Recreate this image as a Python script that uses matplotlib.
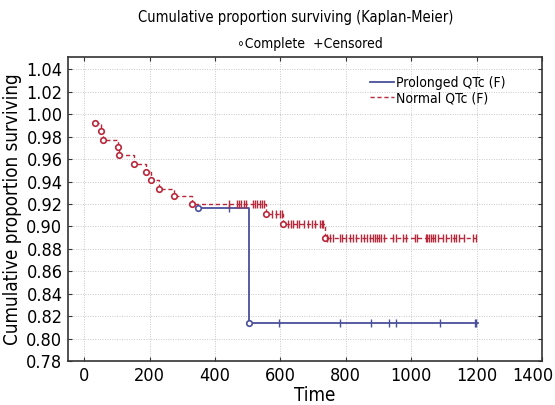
import numpy as np
import matplotlib
matplotlib.use("Agg")
import matplotlib.pyplot as plt
import matplotlib.transforms as mtransforms

plt.rcParams['font.family'] = ['DejaVu Sans']
plt.rcParams['font.stretch'] = 'condensed'

# Normal QTc group: event times and survival after each event
normal_times = [33, 51, 56, 102, 107, 153, 189, 204, 227, 273, 329, 556, 609, 735]
normal_surv = [0.9923, 0.9849, 0.9775, 0.9709, 0.9635, 0.9561, 0.9486, 0.9412,
               0.9337, 0.9271, 0.9200, 0.9108, 0.9025, 0.8900]
normal_censored = [444, 467, 473, 480, 488, 495, 515, 523, 529, 537, 543, 551,
                   573, 587, 597, 604,
                   622, 631, 639, 649, 658, 671, 684, 695, 706, 720, 727, 729,
                   742, 752, 762, 781, 789, 801, 813, 822, 830, 847, 854, 864,
                   875, 883, 888, 895, 901, 908, 916, 944, 952, 975, 983, 1010,
                   1018, 1044, 1049, 1054, 1059, 1067, 1074, 1082, 1097, 1107,
                   1121, 1130, 1138, 1146, 1160, 1189, 1197]
normal_end = 1197

# Prolonged QTc group
prolonged_times = [349, 505]
prolonged_surv = [0.9168, 0.8135]
prolonged_censored = [444, 594, 783, 876, 932, 954, 1087, 1194, 1199]
prolonged_end = 1203

blue = '#4a4f9c'
red = '#b8283a'


def km_curve(ax, times, surv, censored, end, color, ls, lw, label):
    xs = list(times) + [end]
    ys = list(surv) + [surv[-1]]
    ax.step(xs, ys, where='post', color=color, linestyle=ls, linewidth=lw,
            label=label, zorder=3)
    ax.plot(times, surv, linestyle='none', marker='o', markersize=4,
            markerfacecolor='white', markeredgecolor=color, markeredgewidth=1.2,
            zorder=4)
    idx = np.searchsorted(times, censored, side='right') - 1
    cy = [surv[i] for i in idx]
    ax.plot(censored, cy, linestyle='none', marker='|', markersize=6,
            color=color, markeredgewidth=1.0, zorder=4)


fig = plt.figure(figsize=(5.55, 4.05), dpi=100)
ax = fig.add_axes([0.1225, 0.1086, 0.8541, 0.7504])

km_curve(ax, prolonged_times, prolonged_surv, prolonged_censored,
         prolonged_end, blue, '-', 1.3, 'Prolonged QTc (F)')
km_curve(ax, normal_times, normal_surv, normal_censored, normal_end,
         red, (0, (3, 2)), 1.0, 'Normal QTc (F)')

ax.set_xlim(-50, 1400)
ax.set_ylim(0.78, 1.051)
ax.set_xticks(np.arange(0, 1401, 200))
ax.set_yticks(np.arange(0.78, 1.041, 0.02))
ax.yaxis.set_major_formatter(matplotlib.ticker.FormatStrFormatter('%.2f'))
ax.tick_params(direction='in', top=True, right=True, labelsize=13,
               length=3, color='#333333', pad=4)
ax.grid(True, linestyle=(0, (1, 1.5)), color='#c8c8c8', linewidth=0.7)
for s in ax.spines.values():
    s.set_color('#333333')
    s.set_linewidth(1.2)

# nudge the last x tick label so it stays inside the figure
last = ax.get_xticklabels()[-1]
last.set_transform(last.get_transform() +
                   mtransforms.ScaledTranslation(-9 / 100, 0, fig.dpi_scale_trans))

ax.set_xlabel('Time', fontsize=13.5, labelpad=1, x=0.52)
ax.set_ylabel('Cumulative proportion surviving', fontsize=13.5, labelpad=3)

ax.legend(loc='upper right', bbox_to_anchor=(0.935, 0.955), frameon=False,
          fontsize=10, handlelength=1.7, handletextpad=0.15,
          labelspacing=0.05, borderaxespad=0)

fig.text(0.532, 0.956, 'Cumulative proportion surviving (Kaplan-Meier)',
         ha='center', va='center', fontsize=10.5)
fig.text(0.559, 0.891, '\u2218Complete  +Censored', ha='center',
         va='center', fontsize=10)

fig.savefig('out.png', dpi=100)
